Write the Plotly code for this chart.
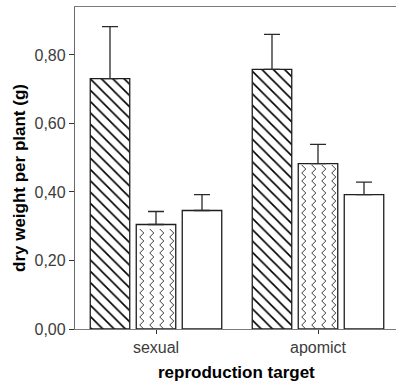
import numpy as np
import plotly.graph_objects as go

# Groups and treatment means (g) with their standard errors
groups = ["sexual", "apomict"]
group_pos = [0, 1]
mean_a = [0.731, 0.758]
err_a = [0.152, 0.102]
mean_b = [0.305, 0.483]
err_b = [0.038, 0.056]
mean_c = [0.346, 0.392]
err_c = [0.046, 0.037]

y_ticks = [0.0, 0.2, 0.4, 0.6, 0.8]
y_tick_text = ["0,00", "0,20", "0,40", "0,60", "0,80"]

# Geometry of the plot (pixel scale used for bar layout and the zigzag fill)
W, H = 396, 385
M_L, M_R, M_T, M_B = 75, 0, 7, 56
PX_X = 162.0                    # pixels per x unit (one group)
Y_MAX = 0.94
PLOT_H = H - M_T - M_B
PLOT_W = W - M_L - M_R
PX_Y = PLOT_H / Y_MAX           # pixels per y unit

bar_w = 39.5 / PX_X
step = 46.0 / PX_X
offsets = [-bar_w / 2 - step, -bar_w / 2, -bar_w / 2 + step]

edge = dict(color="#1e1e1e", width=1.3)
err_style = dict(type="data", symmetric=False, color="#2a2a2a", thickness=1.3, width=8)

fig = go.Figure()

series = [
    (mean_a, err_a, dict(shape="\\", fgcolor="black", fgopacity=1, bgcolor="white",
                         size=8, solidity=0.2)),
    (mean_b, err_b, None),
    (mean_c, err_c, None),
]
for (vals, errs, pattern), off in zip(series, offsets):
    marker = dict(color="white", line=edge)
    if pattern:
        marker["pattern"] = pattern
    fig.add_trace(go.Bar(
        x=group_pos, y=vals, width=bar_w, offset=off,
        marker=marker,
        error_y=dict(err_style, array=errs, arrayminus=[0] * len(errs)),
        showlegend=False, hoverinfo="skip",
    ))

# Zigzag fill for the middle series: vertical zigzag columns inside each bar
cols_px = [5.5, 15.5, 25.5, 35.5]
amp = 2.0 / PX_X
half = 4.0 / PX_Y
for gx, top in zip(group_pos, mean_b):
    left = gx + offsets[1]
    n = int((top - 0.8 / PX_Y) / half)
    ys = np.arange(n + 1) * half
    for c in cols_px:
        cx = left + c / PX_X
        xs = cx + np.where(np.arange(n + 1) % 2 == 0, amp, -amp)
        fig.add_trace(go.Scatter(
            x=xs, y=ys, mode="lines",
            line=dict(color="#3a3a3a", width=1),
            showlegend=False, hoverinfo="skip",
        ))

font_tick = dict(family="Liberation Sans, Arial, sans-serif", size=16, color="#3c3c3c")
font_title = dict(family="Liberation Sans, Arial, sans-serif", size=17, color="black")

fig.update_layout(
    width=W, height=H,
    margin=dict(l=M_L, r=M_R, t=M_T, b=M_B),
    paper_bgcolor="white", plot_bgcolor="white",
    barmode="overlay",
    xaxis=dict(
        range=[-0.5, -0.5 + PLOT_W / PX_X],
        tickmode="array", tickvals=group_pos, ticktext=groups,
        ticks="outside", ticklen=4, tickcolor="#333333", tickwidth=1.3,
        showline=True, linecolor="#7a7a7a", linewidth=1.3, mirror=True,
        showgrid=False, zeroline=False, tickfont=font_tick,
    ),
    yaxis=dict(
        range=[0, Y_MAX],
        tickmode="array", tickvals=y_ticks, ticktext=y_tick_text,
        ticks="outside", ticklen=5, tickcolor="#333333", tickwidth=1.3,
        showline=True, linecolor="#6a6a6a", linewidth=1.3,
        showgrid=False, zeroline=False, tickfont=font_tick,
    ),
    annotations=[
        dict(text="<b>reproduction target</b>", font=font_title,
             xref="paper", yref="paper",
             x=(237 - M_L) / PLOT_W, y=-(372 - (M_T + PLOT_H)) / PLOT_H,
             xanchor="center", yanchor="middle", showarrow=False),
        dict(text="<b>dry weight per plant (g)</b>", font=font_title,
             xref="paper", yref="paper", textangle=-90,
             x=(20 - M_L) / PLOT_W, y=((M_T + PLOT_H) - 178) / PLOT_H,
             xanchor="center", yanchor="middle", showarrow=False),
    ],
)

fig.write_html("out.html")
